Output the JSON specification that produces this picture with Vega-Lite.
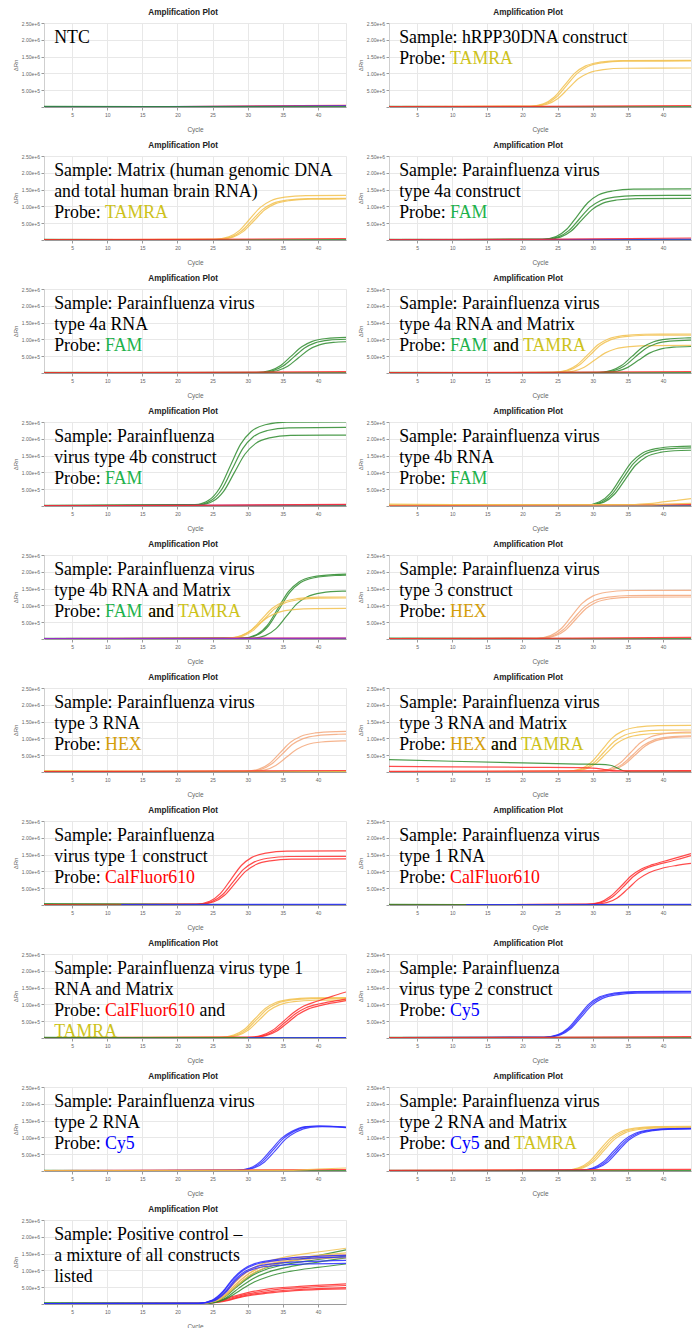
{
"$schema": "https://vega.github.io/schema/vega-lite/v6.json",
"background": "white",
"padding": {"left": 11, "top": 6, "right": 4, "bottom": 0},
"config": {
  "view": {"stroke": "#e6e6e6"},
  "font": "Liberation Sans",
  "axisX": {"grid": true, "gridColor": "#e8e8e8", "domainColor": "#9a9a9a", "tickColor": "#9a9a9a", "tickSize": 3, "labelFontSize": 5, "labelColor": "#666666", "labelPadding": 2, "titleFontSize": 6.5, "titleFontWeight": "normal", "titleColor": "#666666", "titlePadding": 9},
  "axisY": {"grid": true, "gridColor": "#e8e8e8", "domainColor": "#cfcfcf", "tickColor": "#9a9a9a", "tickSize": 3, "labelFontSize": 5, "labelColor": "#666666", "labelPadding": 1.5, "titleFontSize": 6, "titleFontWeight": "normal", "titleColor": "#666666", "titlePadding": 3}
},
"data": {"values": [
{"p":1,"s":"r","d":"CF","x":1,"y":0.005},{"p":1,"s":"r","d":"CF","x":20,"y":0.015},{"p":1,"s":"r","d":"CF","x":44,"y":0.05},
{"p":1,"s":"u","d":"Cy5","x":1,"y":0.01},{"p":1,"s":"u","d":"Cy5","x":30,"y":0.02},{"p":1,"s":"u","d":"Cy5","x":44,"y":0.035},
{"p":1,"s":"g","d":"FAM","x":1,"y":0.02},{"p":1,"s":"g","d":"FAM","x":15,"y":0.01},{"p":1,"s":"g","d":"FAM","x":44,"y":0.01},

{"p":2,"s":"g","d":"FAM","x":1,"y":0.02},{"p":2,"s":"g","d":"FAM","x":12,"y":0.012},{"p":2,"s":"g","d":"FAM","x":44,"y":0.01},
{"p":2,"s":"r","d":"CF","x":1,"y":0.01},{"p":2,"s":"r","d":"CF","x":22,"y":0.02},{"p":2,"s":"r","d":"CF","x":44,"y":0.045},
{"p":2,"s":"a","d":"TAMRA","x":1,"y":0.01},{"p":2,"s":"a","d":"TAMRA","x":21,"y":0.021},{"p":2,"s":"a","d":"TAMRA","x":23,"y":0.097},{"p":2,"s":"a","d":"TAMRA","x":24.5,"y":0.292},{"p":2,"s":"a","d":"TAMRA","x":26,"y":0.653},{"p":2,"s":"a","d":"TAMRA","x":27.5,"y":1.015},{"p":2,"s":"a","d":"TAMRA","x":29,"y":1.223},{"p":2,"s":"a","d":"TAMRA","x":31,"y":1.334},{"p":2,"s":"a","d":"TAMRA","x":34,"y":1.383},{"p":2,"s":"a","d":"TAMRA","x":44,"y":1.39},
{"p":2,"s":"b","d":"TAMRA","x":1,"y":0.01},{"p":2,"s":"b","d":"TAMRA","x":21.3,"y":0.021},{"p":2,"s":"b","d":"TAMRA","x":23.3,"y":0.096},{"p":2,"s":"b","d":"TAMRA","x":24.8,"y":0.288},{"p":2,"s":"b","d":"TAMRA","x":26.3,"y":0.644},{"p":2,"s":"b","d":"TAMRA","x":27.8,"y":1.0},{"p":2,"s":"b","d":"TAMRA","x":29.3,"y":1.206},{"p":2,"s":"b","d":"TAMRA","x":31.3,"y":1.315},{"p":2,"s":"b","d":"TAMRA","x":34.3,"y":1.363},{"p":2,"s":"b","d":"TAMRA","x":44,"y":1.37},
{"p":2,"s":"c","d":"TAMRA","x":1,"y":0.01},{"p":2,"s":"c","d":"TAMRA","x":21.5,"y":0.017},{"p":2,"s":"c","d":"TAMRA","x":23.5,"y":0.081},{"p":2,"s":"c","d":"TAMRA","x":25,"y":0.244},{"p":2,"s":"c","d":"TAMRA","x":26.5,"y":0.545},{"p":2,"s":"c","d":"TAMRA","x":28,"y":0.847},{"p":2,"s":"c","d":"TAMRA","x":29.5,"y":1.021},{"p":2,"s":"c","d":"TAMRA","x":31.5,"y":1.114},{"p":2,"s":"c","d":"TAMRA","x":34.5,"y":1.154},{"p":2,"s":"c","d":"TAMRA","x":44,"y":1.16},

{"p":3,"s":"g","d":"FAM","x":1,"y":0.02},{"p":3,"s":"g","d":"FAM","x":12,"y":0.012},{"p":3,"s":"g","d":"FAM","x":44,"y":0.01},
{"p":3,"s":"r","d":"CF","x":1,"y":0.01},{"p":3,"s":"r","d":"CF","x":22,"y":0.02},{"p":3,"s":"r","d":"CF","x":44,"y":0.045},
{"p":3,"s":"a","d":"TAMRA","x":1,"y":0.01},{"p":3,"s":"a","d":"TAMRA","x":25.3,"y":0.02},{"p":3,"s":"a","d":"TAMRA","x":27.3,"y":0.093},{"p":3,"s":"a","d":"TAMRA","x":28.8,"y":0.279},{"p":3,"s":"a","d":"TAMRA","x":30.3,"y":0.625},{"p":3,"s":"a","d":"TAMRA","x":31.8,"y":0.971},{"p":3,"s":"a","d":"TAMRA","x":33.3,"y":1.17},{"p":3,"s":"a","d":"TAMRA","x":35.3,"y":1.277},{"p":3,"s":"a","d":"TAMRA","x":38.3,"y":1.323},{"p":3,"s":"a","d":"TAMRA","x":44,"y":1.33},
{"p":3,"s":"b","d":"TAMRA","x":1,"y":0.01},{"p":3,"s":"b","d":"TAMRA","x":25.6,"y":0.019},{"p":3,"s":"b","d":"TAMRA","x":27.6,"y":0.087},{"p":3,"s":"b","d":"TAMRA","x":29.1,"y":0.26},{"p":3,"s":"b","d":"TAMRA","x":30.6,"y":0.583},{"p":3,"s":"b","d":"TAMRA","x":32.1,"y":0.905},{"p":3,"s":"b","d":"TAMRA","x":33.6,"y":1.091},{"p":3,"s":"b","d":"TAMRA","x":35.6,"y":1.19},{"p":3,"s":"b","d":"TAMRA","x":38.6,"y":1.234},{"p":3,"s":"b","d":"TAMRA","x":44,"y":1.24},
{"p":3,"s":"c","d":"TAMRA","x":1,"y":0.01},{"p":3,"s":"c","d":"TAMRA","x":25.9,"y":0.018},{"p":3,"s":"c","d":"TAMRA","x":27.9,"y":0.085},{"p":3,"s":"c","d":"TAMRA","x":29.4,"y":0.256},{"p":3,"s":"c","d":"TAMRA","x":30.9,"y":0.573},{"p":3,"s":"c","d":"TAMRA","x":32.4,"y":0.891},{"p":3,"s":"c","d":"TAMRA","x":33.9,"y":1.074},{"p":3,"s":"c","d":"TAMRA","x":35.9,"y":1.171},{"p":3,"s":"c","d":"TAMRA","x":38.9,"y":1.214},{"p":3,"s":"c","d":"TAMRA","x":44,"y":1.22},

{"p":4,"s":"g","d":"FAM","x":1,"y":0.02},{"p":4,"s":"g","d":"FAM","x":12,"y":0.012},{"p":4,"s":"g","d":"FAM","x":44,"y":0.01},
{"p":4,"s":"u","d":"Cy5","x":1,"y":0.008},{"p":4,"s":"u","d":"Cy5","x":44,"y":0.025},
{"p":4,"s":"r","d":"CF","x":1,"y":0.01},{"p":4,"s":"r","d":"CF","x":22,"y":0.02},{"p":4,"s":"r","d":"CF","x":44,"y":0.06},
{"p":4,"s":"a","d":"FAM","x":1,"y":0.01},{"p":4,"s":"a","d":"FAM","x":22.8,"y":0.023},{"p":4,"s":"a","d":"FAM","x":24.8,"y":0.106},{"p":4,"s":"a","d":"FAM","x":26.3,"y":0.319},{"p":4,"s":"a","d":"FAM","x":27.8,"y":0.714},{"p":4,"s":"a","d":"FAM","x":29.3,"y":1.11},{"p":4,"s":"a","d":"FAM","x":30.8,"y":1.338},{"p":4,"s":"a","d":"FAM","x":32.8,"y":1.459},{"p":4,"s":"a","d":"FAM","x":35.8,"y":1.512},{"p":4,"s":"a","d":"FAM","x":44,"y":1.52},
{"p":4,"s":"b","d":"FAM","x":1,"y":0.01},{"p":4,"s":"b","d":"FAM","x":23.1,"y":0.02},{"p":4,"s":"b","d":"FAM","x":25.1,"y":0.093},{"p":4,"s":"b","d":"FAM","x":26.6,"y":0.279},{"p":4,"s":"b","d":"FAM","x":28.1,"y":0.625},{"p":4,"s":"b","d":"FAM","x":29.6,"y":0.971},{"p":4,"s":"b","d":"FAM","x":31.1,"y":1.17},{"p":4,"s":"b","d":"FAM","x":33.1,"y":1.277},{"p":4,"s":"b","d":"FAM","x":36.1,"y":1.323},{"p":4,"s":"b","d":"FAM","x":44,"y":1.33},
{"p":4,"s":"c","d":"FAM","x":1,"y":0.01},{"p":4,"s":"c","d":"FAM","x":23.4,"y":0.019},{"p":4,"s":"c","d":"FAM","x":25.4,"y":0.087},{"p":4,"s":"c","d":"FAM","x":26.9,"y":0.26},{"p":4,"s":"c","d":"FAM","x":28.4,"y":0.583},{"p":4,"s":"c","d":"FAM","x":29.9,"y":0.905},{"p":4,"s":"c","d":"FAM","x":31.4,"y":1.091},{"p":4,"s":"c","d":"FAM","x":33.4,"y":1.19},{"p":4,"s":"c","d":"FAM","x":36.4,"y":1.234},{"p":4,"s":"c","d":"FAM","x":44,"y":1.24},

{"p":5,"s":"g","d":"FAM","x":1,"y":0.02},{"p":5,"s":"g","d":"FAM","x":12,"y":0.012},{"p":5,"s":"g","d":"FAM","x":44,"y":0.01},
{"p":5,"s":"r","d":"CF","x":1,"y":0.01},{"p":5,"s":"r","d":"CF","x":22,"y":0.02},{"p":5,"s":"r","d":"CF","x":44,"y":0.04},
{"p":5,"s":"a","d":"FAM","x":1,"y":0.01},{"p":5,"s":"a","d":"FAM","x":31.2,"y":0.016},{"p":5,"s":"a","d":"FAM","x":33.2,"y":0.075},{"p":5,"s":"a","d":"FAM","x":34.7,"y":0.225},{"p":5,"s":"a","d":"FAM","x":36.2,"y":0.503},{"p":5,"s":"a","d":"FAM","x":37.7,"y":0.781},{"p":5,"s":"a","d":"FAM","x":39.2,"y":0.942},{"p":5,"s":"a","d":"FAM","x":41.2,"y":1.027},{"p":5,"s":"a","d":"FAM","x":44,"y":1.06},
{"p":5,"s":"b","d":"FAM","x":1,"y":0.01},{"p":5,"s":"b","d":"FAM","x":31.6,"y":0.015},{"p":5,"s":"b","d":"FAM","x":33.6,"y":0.071},{"p":5,"s":"b","d":"FAM","x":35.1,"y":0.214},{"p":5,"s":"b","d":"FAM","x":36.6,"y":0.479},{"p":5,"s":"b","d":"FAM","x":38.1,"y":0.745},{"p":5,"s":"b","d":"FAM","x":39.6,"y":0.898},{"p":5,"s":"b","d":"FAM","x":41.6,"y":0.979},{"p":5,"s":"b","d":"FAM","x":44,"y":1.005},
{"p":5,"s":"c","d":"FAM","x":1,"y":0.01},{"p":5,"s":"c","d":"FAM","x":32.2,"y":0.014},{"p":5,"s":"c","d":"FAM","x":34.2,"y":0.067},{"p":5,"s":"c","d":"FAM","x":35.7,"y":0.2},{"p":5,"s":"c","d":"FAM","x":37.2,"y":0.447},{"p":5,"s":"c","d":"FAM","x":38.7,"y":0.694},{"p":5,"s":"c","d":"FAM","x":40.2,"y":0.836},{"p":5,"s":"c","d":"FAM","x":42.2,"y":0.912},{"p":5,"s":"c","d":"FAM","x":44,"y":0.93},

{"p":6,"s":"g","d":"FAM","x":1,"y":0.02},{"p":6,"s":"g","d":"FAM","x":12,"y":0.012},{"p":6,"s":"g","d":"FAM","x":44,"y":0.01},
{"p":6,"s":"r","d":"CF","x":1,"y":0.01},{"p":6,"s":"r","d":"CF","x":22,"y":0.02},{"p":6,"s":"r","d":"CF","x":44,"y":0.045},
{"p":6,"s":"a","d":"TAMRA","x":1,"y":0.01},{"p":6,"s":"a","d":"TAMRA","x":24.3,"y":0.017},{"p":6,"s":"a","d":"TAMRA","x":26.3,"y":0.081},{"p":6,"s":"a","d":"TAMRA","x":27.8,"y":0.244},{"p":6,"s":"a","d":"TAMRA","x":29.3,"y":0.545},{"p":6,"s":"a","d":"TAMRA","x":30.8,"y":0.847},{"p":6,"s":"a","d":"TAMRA","x":32.3,"y":1.021},{"p":6,"s":"a","d":"TAMRA","x":34.3,"y":1.114},{"p":6,"s":"a","d":"TAMRA","x":37.3,"y":1.154},{"p":6,"s":"a","d":"TAMRA","x":44,"y":1.16},
{"p":6,"s":"b","d":"TAMRA","x":1,"y":0.01},{"p":6,"s":"b","d":"TAMRA","x":24.6,"y":0.017},{"p":6,"s":"b","d":"TAMRA","x":26.6,"y":0.079},{"p":6,"s":"b","d":"TAMRA","x":28.1,"y":0.237},{"p":6,"s":"b","d":"TAMRA","x":29.6,"y":0.531},{"p":6,"s":"b","d":"TAMRA","x":31.1,"y":0.825},{"p":6,"s":"b","d":"TAMRA","x":32.6,"y":0.994},{"p":6,"s":"b","d":"TAMRA","x":34.6,"y":1.085},{"p":6,"s":"b","d":"TAMRA","x":37.6,"y":1.124},{"p":6,"s":"b","d":"TAMRA","x":44,"y":1.13},
{"p":6,"s":"c","d":"TAMRA","x":1,"y":0.01},{"p":6,"s":"c","d":"TAMRA","x":25.3,"y":0.012},{"p":6,"s":"c","d":"TAMRA","x":27.3,"y":0.057},{"p":6,"s":"c","d":"TAMRA","x":28.8,"y":0.172},{"p":6,"s":"c","d":"TAMRA","x":30.3,"y":0.385},{"p":6,"s":"c","d":"TAMRA","x":31.8,"y":0.599},{"p":6,"s":"c","d":"TAMRA","x":33.3,"y":0.722},{"p":6,"s":"c","d":"TAMRA","x":35.3,"y":0.787},{"p":6,"s":"c","d":"TAMRA","x":38.3,"y":0.816},{"p":6,"s":"c","d":"TAMRA","x":44,"y":0.82},
{"p":6,"s":"d","d":"FAM","x":1,"y":0.01},{"p":6,"s":"d","d":"FAM","x":30.6,"y":0.016},{"p":6,"s":"d","d":"FAM","x":32.6,"y":0.074},{"p":6,"s":"d","d":"FAM","x":34.1,"y":0.221},{"p":6,"s":"d","d":"FAM","x":35.6,"y":0.494},{"p":6,"s":"d","d":"FAM","x":37.1,"y":0.767},{"p":6,"s":"d","d":"FAM","x":38.6,"y":0.924},{"p":6,"s":"d","d":"FAM","x":40.6,"y":1.008},{"p":6,"s":"d","d":"FAM","x":43.6,"y":1.045},{"p":6,"s":"d","d":"FAM","x":44,"y":1.048},
{"p":6,"s":"e","d":"FAM","x":1,"y":0.01},{"p":6,"s":"e","d":"FAM","x":31,"y":0.015},{"p":6,"s":"e","d":"FAM","x":33,"y":0.069},{"p":6,"s":"e","d":"FAM","x":34.5,"y":0.208},{"p":6,"s":"e","d":"FAM","x":36,"y":0.465},{"p":6,"s":"e","d":"FAM","x":37.5,"y":0.723},{"p":6,"s":"e","d":"FAM","x":39,"y":0.871},{"p":6,"s":"e","d":"FAM","x":41,"y":0.95},{"p":6,"s":"e","d":"FAM","x":44,"y":0.98},
{"p":6,"s":"f","d":"FAM","x":1,"y":0.01},{"p":6,"s":"f","d":"FAM","x":31.5,"y":0.012},{"p":6,"s":"f","d":"FAM","x":33.5,"y":0.056},{"p":6,"s":"f","d":"FAM","x":35,"y":0.168},{"p":6,"s":"f","d":"FAM","x":36.5,"y":0.376},{"p":6,"s":"f","d":"FAM","x":38,"y":0.584},{"p":6,"s":"f","d":"FAM","x":39.5,"y":0.704},{"p":6,"s":"f","d":"FAM","x":41.5,"y":0.768},{"p":6,"s":"f","d":"FAM","x":44,"y":0.788},

{"p":7,"s":"g","d":"FAM","x":1,"y":0.02},{"p":7,"s":"g","d":"FAM","x":12,"y":0.012},{"p":7,"s":"g","d":"FAM","x":44,"y":0.01},
{"p":7,"s":"q","d":"P","x":1,"y":0.008},{"p":7,"s":"q","d":"P","x":44,"y":0.04},
{"p":7,"s":"r","d":"CF","x":1,"y":0.01},{"p":7,"s":"r","d":"CF","x":22,"y":0.02},{"p":7,"s":"r","d":"CF","x":44,"y":0.05},
{"p":7,"s":"a","d":"FAM","x":1,"y":0.01},{"p":7,"s":"a","d":"FAM","x":22.5,"y":0.038},{"p":7,"s":"a","d":"FAM","x":24.5,"y":0.176},{"p":7,"s":"a","d":"FAM","x":26,"y":0.529},{"p":7,"s":"a","d":"FAM","x":27.5,"y":1.184},{"p":7,"s":"a","d":"FAM","x":29,"y":1.84},{"p":7,"s":"a","d":"FAM","x":30.5,"y":2.218},{"p":7,"s":"a","d":"FAM","x":32.5,"y":2.419},{"p":7,"s":"a","d":"FAM","x":35.5,"y":2.495},{"p":7,"s":"a","d":"FAM","x":44,"y":2.5},
{"p":7,"s":"b","d":"FAM","x":1,"y":0.01},{"p":7,"s":"b","d":"FAM","x":22.8,"y":0.035},{"p":7,"s":"b","d":"FAM","x":24.8,"y":0.164},{"p":7,"s":"b","d":"FAM","x":26.3,"y":0.491},{"p":7,"s":"b","d":"FAM","x":27.8,"y":1.1},{"p":7,"s":"b","d":"FAM","x":29.3,"y":1.708},{"p":7,"s":"b","d":"FAM","x":30.8,"y":2.059},{"p":7,"s":"b","d":"FAM","x":32.8,"y":2.246},{"p":7,"s":"b","d":"FAM","x":35.8,"y":2.328},{"p":7,"s":"b","d":"FAM","x":44,"y":2.34},
{"p":7,"s":"c","d":"FAM","x":1,"y":0.01},{"p":7,"s":"c","d":"FAM","x":23.1,"y":0.032},{"p":7,"s":"c","d":"FAM","x":25.1,"y":0.148},{"p":7,"s":"c","d":"FAM","x":26.6,"y":0.443},{"p":7,"s":"c","d":"FAM","x":28.1,"y":0.992},{"p":7,"s":"c","d":"FAM","x":29.6,"y":1.54},{"p":7,"s":"c","d":"FAM","x":31.1,"y":1.857},{"p":7,"s":"c","d":"FAM","x":33.1,"y":2.026},{"p":7,"s":"c","d":"FAM","x":36.1,"y":2.099},{"p":7,"s":"c","d":"FAM","x":44,"y":2.11},

{"p":8,"s":"g","d":"FAM","x":1,"y":0.02},{"p":8,"s":"g","d":"FAM","x":12,"y":0.012},{"p":8,"s":"g","d":"FAM","x":44,"y":0.01},
{"p":8,"s":"q","d":"P","x":1,"y":0.008},{"p":8,"s":"q","d":"P","x":44,"y":0.03},
{"p":8,"s":"r","d":"CF","x":1,"y":0.01},{"p":8,"s":"r","d":"CF","x":44,"y":0.05},
{"p":8,"s":"t","d":"TAMRA","x":1,"y":0.06},{"p":8,"s":"t","d":"TAMRA","x":10,"y":0.045},{"p":8,"s":"t","d":"TAMRA","x":30,"y":0.04},{"p":8,"s":"t","d":"TAMRA","x":36,"y":0.045},{"p":8,"s":"t","d":"TAMRA","x":38,"y":0.07},{"p":8,"s":"t","d":"TAMRA","x":40,"y":0.12},{"p":8,"s":"t","d":"TAMRA","x":42,"y":0.17},{"p":8,"s":"t","d":"TAMRA","x":44,"y":0.22},
{"p":8,"s":"v","d":"TAMRA","x":1,"y":0.035},{"p":8,"s":"v","d":"TAMRA","x":20,"y":0.03},{"p":8,"s":"v","d":"TAMRA","x":37,"y":0.03},{"p":8,"s":"v","d":"TAMRA","x":40,"y":0.05},{"p":8,"s":"v","d":"TAMRA","x":44,"y":0.08},
{"p":8,"s":"a","d":"FAM","x":1,"y":0.01},{"p":8,"s":"a","d":"FAM","x":29,"y":0.027},{"p":8,"s":"a","d":"FAM","x":31,"y":0.125},{"p":8,"s":"a","d":"FAM","x":32.5,"y":0.374},{"p":8,"s":"a","d":"FAM","x":34,"y":0.837},{"p":8,"s":"a","d":"FAM","x":35.5,"y":1.299},{"p":8,"s":"a","d":"FAM","x":37,"y":1.566},{"p":8,"s":"a","d":"FAM","x":39,"y":1.709},{"p":8,"s":"a","d":"FAM","x":42,"y":1.771},{"p":8,"s":"a","d":"FAM","x":44,"y":1.78},
{"p":8,"s":"b","d":"FAM","x":1,"y":0.01},{"p":8,"s":"b","d":"FAM","x":29.3,"y":0.026},{"p":8,"s":"b","d":"FAM","x":31.3,"y":0.121},{"p":8,"s":"b","d":"FAM","x":32.8,"y":0.363},{"p":8,"s":"b","d":"FAM","x":34.3,"y":0.813},{"p":8,"s":"b","d":"FAM","x":35.8,"y":1.263},{"p":8,"s":"b","d":"FAM","x":37.3,"y":1.522},{"p":8,"s":"b","d":"FAM","x":39.3,"y":1.661},{"p":8,"s":"b","d":"FAM","x":42.3,"y":1.721},{"p":8,"s":"b","d":"FAM","x":44,"y":1.73},
{"p":8,"s":"c","d":"FAM","x":1,"y":0.01},{"p":8,"s":"c","d":"FAM","x":29.6,"y":0.025},{"p":8,"s":"c","d":"FAM","x":31.6,"y":0.116},{"p":8,"s":"c","d":"FAM","x":33.1,"y":0.349},{"p":8,"s":"c","d":"FAM","x":34.6,"y":0.78},{"p":8,"s":"c","d":"FAM","x":36.1,"y":1.212},{"p":8,"s":"c","d":"FAM","x":37.6,"y":1.461},{"p":8,"s":"c","d":"FAM","x":39.6,"y":1.594},{"p":8,"s":"c","d":"FAM","x":42.6,"y":1.652},{"p":8,"s":"c","d":"FAM","x":44,"y":1.66},

{"p":9,"s":"g","d":"FAM","x":1,"y":0.02},{"p":9,"s":"g","d":"FAM","x":12,"y":0.012},{"p":9,"s":"g","d":"FAM","x":44,"y":0.01},
{"p":9,"s":"r","d":"CF","x":1,"y":0.01},{"p":9,"s":"r","d":"CF","x":44,"y":0.03},
{"p":9,"s":"q","d":"P","x":1,"y":0.01},{"p":9,"s":"q","d":"P","x":44,"y":0.025},
{"p":9,"s":"a","d":"FAM","x":1,"y":0.01},{"p":9,"s":"a","d":"FAM","x":29.3,"y":0.029},{"p":9,"s":"a","d":"FAM","x":31.3,"y":0.135},{"p":9,"s":"a","d":"FAM","x":32.8,"y":0.405},{"p":9,"s":"a","d":"FAM","x":34.3,"y":0.907},{"p":9,"s":"a","d":"FAM","x":35.8,"y":1.409},{"p":9,"s":"a","d":"FAM","x":37.3,"y":1.698},{"p":9,"s":"a","d":"FAM","x":39.3,"y":1.853},{"p":9,"s":"a","d":"FAM","x":42.3,"y":1.92},{"p":9,"s":"a","d":"FAM","x":44,"y":1.93},
{"p":9,"s":"b","d":"FAM","x":1,"y":0.01},{"p":9,"s":"b","d":"FAM","x":29.5,"y":0.029},{"p":9,"s":"b","d":"FAM","x":31.5,"y":0.133},{"p":9,"s":"b","d":"FAM","x":33,"y":0.399},{"p":9,"s":"b","d":"FAM","x":34.5,"y":0.893},{"p":9,"s":"b","d":"FAM","x":36,"y":1.387},{"p":9,"s":"b","d":"FAM","x":37.5,"y":1.672},{"p":9,"s":"b","d":"FAM","x":39.5,"y":1.824},{"p":9,"s":"b","d":"FAM","x":42.5,"y":1.891},{"p":9,"s":"b","d":"FAM","x":44,"y":1.9},
{"p":9,"s":"c","d":"FAM","x":1,"y":0.01},{"p":9,"s":"c","d":"FAM","x":30.5,"y":0.021},{"p":9,"s":"c","d":"FAM","x":32.5,"y":0.1},{"p":9,"s":"c","d":"FAM","x":34,"y":0.3},{"p":9,"s":"c","d":"FAM","x":35.5,"y":0.672},{"p":9,"s":"c","d":"FAM","x":37,"y":1.044},{"p":9,"s":"c","d":"FAM","x":38.5,"y":1.258},{"p":9,"s":"c","d":"FAM","x":40.5,"y":1.373},{"p":9,"s":"c","d":"FAM","x":43.5,"y":1.423},{"p":9,"s":"c","d":"FAM","x":44,"y":1.425},
{"p":9,"s":"d","d":"TAMRA","x":1,"y":0.01},{"p":9,"s":"d","d":"TAMRA","x":27,"y":0.019},{"p":9,"s":"d","d":"TAMRA","x":29,"y":0.088},{"p":9,"s":"d","d":"TAMRA","x":30.5,"y":0.263},{"p":9,"s":"d","d":"TAMRA","x":32,"y":0.588},{"p":9,"s":"d","d":"TAMRA","x":33.5,"y":0.913},{"p":9,"s":"d","d":"TAMRA","x":35,"y":1.1},{"p":9,"s":"d","d":"TAMRA","x":37,"y":1.2},{"p":9,"s":"d","d":"TAMRA","x":40,"y":1.244},{"p":9,"s":"d","d":"TAMRA","x":44,"y":1.25},
{"p":9,"s":"e","d":"TAMRA","x":1,"y":0.01},{"p":9,"s":"e","d":"TAMRA","x":27.3,"y":0.018},{"p":9,"s":"e","d":"TAMRA","x":29.3,"y":0.085},{"p":9,"s":"e","d":"TAMRA","x":30.8,"y":0.256},{"p":9,"s":"e","d":"TAMRA","x":32.3,"y":0.573},{"p":9,"s":"e","d":"TAMRA","x":33.8,"y":0.891},{"p":9,"s":"e","d":"TAMRA","x":35.3,"y":1.074},{"p":9,"s":"e","d":"TAMRA","x":37.3,"y":1.171},{"p":9,"s":"e","d":"TAMRA","x":40.3,"y":1.214},{"p":9,"s":"e","d":"TAMRA","x":44,"y":1.22},
{"p":9,"s":"f","d":"TAMRA","x":1,"y":0.01},{"p":9,"s":"f","d":"TAMRA","x":26.5,"y":0.014},{"p":9,"s":"f","d":"TAMRA","x":28.5,"y":0.064},{"p":9,"s":"f","d":"TAMRA","x":30,"y":0.191},{"p":9,"s":"f","d":"TAMRA","x":31.5,"y":0.428},{"p":9,"s":"f","d":"TAMRA","x":33,"y":0.664},{"p":9,"s":"f","d":"TAMRA","x":34.5,"y":0.801},{"p":9,"s":"f","d":"TAMRA","x":36.5,"y":0.874},{"p":9,"s":"f","d":"TAMRA","x":39.5,"y":0.905},{"p":9,"s":"f","d":"TAMRA","x":44,"y":0.91},

{"p":10,"s":"g","d":"FAM","x":1,"y":0.03},{"p":10,"s":"g","d":"FAM","x":15,"y":0.02},{"p":10,"s":"g","d":"FAM","x":44,"y":0.01},
{"p":10,"s":"r","d":"CF","x":1,"y":0.01},{"p":10,"s":"r","d":"CF","x":22,"y":0.02},{"p":10,"s":"r","d":"CF","x":44,"y":0.05},
{"p":10,"s":"a","d":"HEX","x":1,"y":0.01},{"p":10,"s":"a","d":"HEX","x":22,"y":0.022},{"p":10,"s":"a","d":"HEX","x":24,"y":0.102},{"p":10,"s":"a","d":"HEX","x":25.5,"y":0.305},{"p":10,"s":"a","d":"HEX","x":27,"y":0.682},{"p":10,"s":"a","d":"HEX","x":28.5,"y":1.059},{"p":10,"s":"a","d":"HEX","x":30,"y":1.276},{"p":10,"s":"a","d":"HEX","x":32,"y":1.392},{"p":10,"s":"a","d":"HEX","x":35,"y":1.443},{"p":10,"s":"a","d":"HEX","x":44,"y":1.45},
{"p":10,"s":"b","d":"HEX","x":1,"y":0.01},{"p":10,"s":"b","d":"HEX","x":22.3,"y":0.02},{"p":10,"s":"b","d":"HEX","x":24.3,"y":0.091},{"p":10,"s":"b","d":"HEX","x":25.8,"y":0.273},{"p":10,"s":"b","d":"HEX","x":27.3,"y":0.611},{"p":10,"s":"b","d":"HEX","x":28.8,"y":0.949},{"p":10,"s":"b","d":"HEX","x":30.3,"y":1.144},{"p":10,"s":"b","d":"HEX","x":32.3,"y":1.248},{"p":10,"s":"b","d":"HEX","x":35.3,"y":1.294},{"p":10,"s":"b","d":"HEX","x":44,"y":1.3},
{"p":10,"s":"c","d":"HEX","x":1,"y":0.01},{"p":10,"s":"c","d":"HEX","x":22.6,"y":0.019},{"p":10,"s":"c","d":"HEX","x":24.6,"y":0.088},{"p":10,"s":"c","d":"HEX","x":26.1,"y":0.263},{"p":10,"s":"c","d":"HEX","x":27.6,"y":0.588},{"p":10,"s":"c","d":"HEX","x":29.1,"y":0.913},{"p":10,"s":"c","d":"HEX","x":30.6,"y":1.1},{"p":10,"s":"c","d":"HEX","x":32.6,"y":1.2},{"p":10,"s":"c","d":"HEX","x":35.6,"y":1.244},{"p":10,"s":"c","d":"HEX","x":44,"y":1.25},

{"p":11,"s":"g","d":"FAM","x":1,"y":0.02},{"p":11,"s":"g","d":"FAM","x":12,"y":0.012},{"p":11,"s":"g","d":"FAM","x":44,"y":0.01},
{"p":11,"s":"t","d":"TAMRA","x":1,"y":0.045},{"p":11,"s":"t","d":"TAMRA","x":15,"y":0.03},{"p":11,"s":"t","d":"TAMRA","x":44,"y":0.02},
{"p":11,"s":"r","d":"CF","x":1,"y":0.01},{"p":11,"s":"r","d":"CF","x":44,"y":0.045},
{"p":11,"s":"a","d":"HEX","x":1,"y":0.01},{"p":11,"s":"a","d":"HEX","x":29.6,"y":0.018},{"p":11,"s":"a","d":"HEX","x":31.6,"y":0.085},{"p":11,"s":"a","d":"HEX","x":33.1,"y":0.254},{"p":11,"s":"a","d":"HEX","x":34.6,"y":0.569},{"p":11,"s":"a","d":"HEX","x":36.1,"y":0.883},{"p":11,"s":"a","d":"HEX","x":37.6,"y":1.065},{"p":11,"s":"a","d":"HEX","x":39.6,"y":1.162},{"p":11,"s":"a","d":"HEX","x":42.6,"y":1.204},{"p":11,"s":"a","d":"HEX","x":44,"y":1.21},
{"p":11,"s":"b","d":"HEX","x":1,"y":0.01},{"p":11,"s":"b","d":"HEX","x":29.9,"y":0.017},{"p":11,"s":"b","d":"HEX","x":31.9,"y":0.079},{"p":11,"s":"b","d":"HEX","x":33.4,"y":0.237},{"p":11,"s":"b","d":"HEX","x":34.9,"y":0.531},{"p":11,"s":"b","d":"HEX","x":36.4,"y":0.825},{"p":11,"s":"b","d":"HEX","x":37.9,"y":0.994},{"p":11,"s":"b","d":"HEX","x":39.9,"y":1.085},{"p":11,"s":"b","d":"HEX","x":42.9,"y":1.124},{"p":11,"s":"b","d":"HEX","x":44,"y":1.13},
{"p":11,"s":"c","d":"HEX","x":1,"y":0.01},{"p":11,"s":"c","d":"HEX","x":30.5,"y":0.014},{"p":11,"s":"c","d":"HEX","x":32.5,"y":0.065},{"p":11,"s":"c","d":"HEX","x":34,"y":0.195},{"p":11,"s":"c","d":"HEX","x":35.5,"y":0.437},{"p":11,"s":"c","d":"HEX","x":37,"y":0.679},{"p":11,"s":"c","d":"HEX","x":38.5,"y":0.818},{"p":11,"s":"c","d":"HEX","x":40.5,"y":0.893},{"p":11,"s":"c","d":"HEX","x":43.5,"y":0.925},{"p":11,"s":"c","d":"HEX","x":44,"y":0.927},

{"p":12,"s":"g","d":"FAM","x":1,"y":0.37},{"p":12,"s":"g","d":"FAM","x":10,"y":0.32},{"p":12,"s":"g","d":"FAM","x":20,"y":0.27},{"p":12,"s":"g","d":"FAM","x":28,"y":0.235},{"p":12,"s":"g","d":"FAM","x":31,"y":0.225},{"p":12,"s":"g","d":"FAM","x":32.5,"y":0.2},{"p":12,"s":"g","d":"FAM","x":33.5,"y":0.12},{"p":12,"s":"g","d":"FAM","x":34.5,"y":0.03},{"p":12,"s":"g","d":"FAM","x":35.5,"y":0.005},{"p":12,"s":"g","d":"FAM","x":44,"y":0.005},
{"p":12,"s":"r","d":"CF","x":1,"y":0.17},{"p":12,"s":"r","d":"CF","x":10,"y":0.155},{"p":12,"s":"r","d":"CF","x":20,"y":0.14},{"p":12,"s":"r","d":"CF","x":28,"y":0.13},{"p":12,"s":"r","d":"CF","x":30,"y":0.115},{"p":12,"s":"r","d":"CF","x":31.5,"y":0.08},{"p":12,"s":"r","d":"CF","x":33,"y":0.035},{"p":12,"s":"r","d":"CF","x":35,"y":0.03},{"p":12,"s":"r","d":"CF","x":44,"y":0.03},
{"p":12,"s":"w","d":"CF","x":1,"y":0.02},{"p":12,"s":"w","d":"CF","x":44,"y":0.04},
{"p":12,"s":"a","d":"TAMRA","x":1,"y":0.01},{"p":12,"s":"a","d":"TAMRA","x":26.3,"y":0.021},{"p":12,"s":"a","d":"TAMRA","x":28.3,"y":0.097},{"p":12,"s":"a","d":"TAMRA","x":29.8,"y":0.292},{"p":12,"s":"a","d":"TAMRA","x":31.3,"y":0.653},{"p":12,"s":"a","d":"TAMRA","x":32.8,"y":1.015},{"p":12,"s":"a","d":"TAMRA","x":34.3,"y":1.223},{"p":12,"s":"a","d":"TAMRA","x":36.3,"y":1.334},{"p":12,"s":"a","d":"TAMRA","x":39.3,"y":1.383},{"p":12,"s":"a","d":"TAMRA","x":44,"y":1.39},
{"p":12,"s":"b","d":"TAMRA","x":1,"y":0.01},{"p":12,"s":"b","d":"TAMRA","x":26.6,"y":0.019},{"p":12,"s":"b","d":"TAMRA","x":28.6,"y":0.088},{"p":12,"s":"b","d":"TAMRA","x":30.1,"y":0.263},{"p":12,"s":"b","d":"TAMRA","x":31.6,"y":0.588},{"p":12,"s":"b","d":"TAMRA","x":33.1,"y":0.913},{"p":12,"s":"b","d":"TAMRA","x":34.6,"y":1.1},{"p":12,"s":"b","d":"TAMRA","x":36.6,"y":1.2},{"p":12,"s":"b","d":"TAMRA","x":39.6,"y":1.244},{"p":12,"s":"b","d":"TAMRA","x":44,"y":1.25},
{"p":12,"s":"c","d":"TAMRA","x":1,"y":0.01},{"p":12,"s":"c","d":"TAMRA","x":26.9,"y":0.017},{"p":12,"s":"c","d":"TAMRA","x":28.9,"y":0.081},{"p":12,"s":"c","d":"TAMRA","x":30.4,"y":0.244},{"p":12,"s":"c","d":"TAMRA","x":31.9,"y":0.545},{"p":12,"s":"c","d":"TAMRA","x":33.4,"y":0.847},{"p":12,"s":"c","d":"TAMRA","x":34.9,"y":1.021},{"p":12,"s":"c","d":"TAMRA","x":36.9,"y":1.114},{"p":12,"s":"c","d":"TAMRA","x":39.9,"y":1.154},{"p":12,"s":"c","d":"TAMRA","x":44,"y":1.16},
{"p":12,"s":"d","d":"HEX","x":1,"y":0.01},{"p":12,"s":"d","d":"HEX","x":30.3,"y":0.018},{"p":12,"s":"d","d":"HEX","x":32.3,"y":0.083},{"p":12,"s":"d","d":"HEX","x":33.8,"y":0.25},{"p":12,"s":"d","d":"HEX","x":35.3,"y":0.559},{"p":12,"s":"d","d":"HEX","x":36.8,"y":0.869},{"p":12,"s":"d","d":"HEX","x":38.3,"y":1.047},{"p":12,"s":"d","d":"HEX","x":40.3,"y":1.142},{"p":12,"s":"d","d":"HEX","x":43.3,"y":1.184},{"p":12,"s":"d","d":"HEX","x":44,"y":1.186},
{"p":12,"s":"e","d":"HEX","x":1,"y":0.01},{"p":12,"s":"e","d":"HEX","x":30.7,"y":0.016},{"p":12,"s":"e","d":"HEX","x":32.7,"y":0.076},{"p":12,"s":"e","d":"HEX","x":34.2,"y":0.227},{"p":12,"s":"e","d":"HEX","x":35.7,"y":0.508},{"p":12,"s":"e","d":"HEX","x":37.2,"y":0.788},{"p":12,"s":"e","d":"HEX","x":38.7,"y":0.95},{"p":12,"s":"e","d":"HEX","x":40.7,"y":1.037},{"p":12,"s":"e","d":"HEX","x":43.7,"y":1.075},{"p":12,"s":"e","d":"HEX","x":44,"y":1.076},
{"p":12,"s":"f","d":"HEX","x":1,"y":0.01},{"p":12,"s":"f","d":"HEX","x":31,"y":0.016},{"p":12,"s":"f","d":"HEX","x":33,"y":0.074},{"p":12,"s":"f","d":"HEX","x":34.5,"y":0.223},{"p":12,"s":"f","d":"HEX","x":36,"y":0.498},{"p":12,"s":"f","d":"HEX","x":37.5,"y":0.774},{"p":12,"s":"f","d":"HEX","x":39,"y":0.933},{"p":12,"s":"f","d":"HEX","x":41,"y":1.018},{"p":12,"s":"f","d":"HEX","x":44,"y":1.049},

{"p":13,"s":"g","d":"FAM","x":1,"y":0.04},{"p":13,"s":"g","d":"FAM","x":10,"y":0.035},{"p":13,"s":"g","d":"FAM","x":20,"y":0.02},{"p":13,"s":"g","d":"FAM","x":30,"y":0.01},{"p":13,"s":"g","d":"FAM","x":44,"y":0.005},
{"p":13,"s":"u","d":"Cy5","x":12,"y":0.01},{"p":13,"s":"u","d":"Cy5","x":44,"y":0.02},
{"p":13,"s":"a","d":"CF","x":1,"y":0.01},{"p":13,"s":"a","d":"CF","x":22.6,"y":0.024},{"p":13,"s":"a","d":"CF","x":24.6,"y":0.113},{"p":13,"s":"a","d":"CF","x":26.1,"y":0.338},{"p":13,"s":"a","d":"CF","x":27.6,"y":0.757},{"p":13,"s":"a","d":"CF","x":29.1,"y":1.175},{"p":13,"s":"a","d":"CF","x":30.6,"y":1.417},{"p":13,"s":"a","d":"CF","x":32.6,"y":1.546},{"p":13,"s":"a","d":"CF","x":35.6,"y":1.602},{"p":13,"s":"a","d":"CF","x":44,"y":1.61},
{"p":13,"s":"b","d":"CF","x":1,"y":0.01},{"p":13,"s":"b","d":"CF","x":22.9,"y":0.022},{"p":13,"s":"b","d":"CF","x":24.9,"y":0.102},{"p":13,"s":"b","d":"CF","x":26.4,"y":0.305},{"p":13,"s":"b","d":"CF","x":27.9,"y":0.682},{"p":13,"s":"b","d":"CF","x":29.4,"y":1.059},{"p":13,"s":"b","d":"CF","x":30.9,"y":1.276},{"p":13,"s":"b","d":"CF","x":32.9,"y":1.392},{"p":13,"s":"b","d":"CF","x":35.9,"y":1.443},{"p":13,"s":"b","d":"CF","x":44,"y":1.45},
{"p":13,"s":"c","d":"CF","x":1,"y":0.01},{"p":13,"s":"c","d":"CF","x":23.2,"y":0.021},{"p":13,"s":"c","d":"CF","x":25.2,"y":0.096},{"p":13,"s":"c","d":"CF","x":26.7,"y":0.288},{"p":13,"s":"c","d":"CF","x":28.2,"y":0.644},{"p":13,"s":"c","d":"CF","x":29.7,"y":1.0},{"p":13,"s":"c","d":"CF","x":31.2,"y":1.206},{"p":13,"s":"c","d":"CF","x":33.2,"y":1.315},{"p":13,"s":"c","d":"CF","x":36.2,"y":1.363},{"p":13,"s":"c","d":"CF","x":44,"y":1.37},

{"p":14,"s":"g","d":"FAM","x":1,"y":0.02},{"p":14,"s":"g","d":"FAM","x":20,"y":0.012},{"p":14,"s":"g","d":"FAM","x":44,"y":0.01},
{"p":14,"s":"u","d":"Cy5","x":12,"y":0.01},{"p":14,"s":"u","d":"Cy5","x":44,"y":0.02},
{"p":14,"s":"a","d":"CF","x":1,"y":0.01},{"p":14,"s":"a","d":"CF","x":29,"y":0.02},{"p":14,"s":"a","d":"CF","x":31,"y":0.08},{"p":14,"s":"a","d":"CF","x":32.5,"y":0.25},{"p":14,"s":"a","d":"CF","x":34,"y":0.55},{"p":14,"s":"a","d":"CF","x":35.5,"y":0.87},{"p":14,"s":"a","d":"CF","x":37,"y":1.08},{"p":14,"s":"a","d":"CF","x":38.5,"y":1.2},{"p":14,"s":"a","d":"CF","x":41,"y":1.35},{"p":14,"s":"a","d":"CF","x":44,"y":1.53},
{"p":14,"s":"b","d":"CF","x":1,"y":0.01},{"p":14,"s":"b","d":"CF","x":29.3,"y":0.02},{"p":14,"s":"b","d":"CF","x":31.3,"y":0.08},{"p":14,"s":"b","d":"CF","x":32.8,"y":0.24},{"p":14,"s":"b","d":"CF","x":34.3,"y":0.53},{"p":14,"s":"b","d":"CF","x":35.8,"y":0.85},{"p":14,"s":"b","d":"CF","x":37.3,"y":1.06},{"p":14,"s":"b","d":"CF","x":38.8,"y":1.18},{"p":14,"s":"b","d":"CF","x":41.3,"y":1.31},{"p":14,"s":"b","d":"CF","x":44,"y":1.47},
{"p":14,"s":"c","d":"CF","x":1,"y":0.01},{"p":14,"s":"c","d":"CF","x":30,"y":0.02},{"p":14,"s":"c","d":"CF","x":32,"y":0.07},{"p":14,"s":"c","d":"CF","x":33.5,"y":0.21},{"p":14,"s":"c","d":"CF","x":35,"y":0.48},{"p":14,"s":"c","d":"CF","x":36.5,"y":0.77},{"p":14,"s":"c","d":"CF","x":38,"y":0.96},{"p":14,"s":"c","d":"CF","x":40,"y":1.1},{"p":14,"s":"c","d":"CF","x":42,"y":1.18},{"p":14,"s":"c","d":"CF","x":44,"y":1.24},

{"p":15,"s":"g","d":"FAM","x":1,"y":0.02},{"p":15,"s":"g","d":"FAM","x":20,"y":0.01},{"p":15,"s":"g","d":"FAM","x":44,"y":0.01},
{"p":15,"s":"u","d":"Cy5","x":30,"y":0.005},{"p":15,"s":"u","d":"Cy5","x":44,"y":0.01},
{"p":15,"s":"a","d":"TAMRA","x":1,"y":0.01},{"p":15,"s":"a","d":"TAMRA","x":26,"y":0.018},{"p":15,"s":"a","d":"TAMRA","x":28,"y":0.084},{"p":15,"s":"a","d":"TAMRA","x":29.5,"y":0.252},{"p":15,"s":"a","d":"TAMRA","x":31,"y":0.564},{"p":15,"s":"a","d":"TAMRA","x":32.5,"y":0.876},{"p":15,"s":"a","d":"TAMRA","x":34,"y":1.056},{"p":15,"s":"a","d":"TAMRA","x":36,"y":1.152},{"p":15,"s":"a","d":"TAMRA","x":39,"y":1.194},{"p":15,"s":"a","d":"TAMRA","x":44,"y":1.2},
{"p":15,"s":"b","d":"TAMRA","x":1,"y":0.01},{"p":15,"s":"b","d":"TAMRA","x":26.3,"y":0.018},{"p":15,"s":"b","d":"TAMRA","x":28.3,"y":0.083},{"p":15,"s":"b","d":"TAMRA","x":29.8,"y":0.248},{"p":15,"s":"b","d":"TAMRA","x":31.3,"y":0.555},{"p":15,"s":"b","d":"TAMRA","x":32.8,"y":0.861},{"p":15,"s":"b","d":"TAMRA","x":34.3,"y":1.038},{"p":15,"s":"b","d":"TAMRA","x":36.3,"y":1.133},{"p":15,"s":"b","d":"TAMRA","x":39.3,"y":1.174},{"p":15,"s":"b","d":"TAMRA","x":44,"y":1.18},
{"p":15,"s":"c","d":"TAMRA","x":1,"y":0.01},{"p":15,"s":"c","d":"TAMRA","x":26.6,"y":0.017},{"p":15,"s":"c","d":"TAMRA","x":28.6,"y":0.079},{"p":15,"s":"c","d":"TAMRA","x":30.1,"y":0.237},{"p":15,"s":"c","d":"TAMRA","x":31.6,"y":0.531},{"p":15,"s":"c","d":"TAMRA","x":33.1,"y":0.825},{"p":15,"s":"c","d":"TAMRA","x":34.6,"y":0.994},{"p":15,"s":"c","d":"TAMRA","x":36.6,"y":1.085},{"p":15,"s":"c","d":"TAMRA","x":39.6,"y":1.124},{"p":15,"s":"c","d":"TAMRA","x":44,"y":1.13},
{"p":15,"s":"d","d":"CF","x":1,"y":0.01},{"p":15,"s":"d","d":"CF","x":30,"y":0.02},{"p":15,"s":"d","d":"CF","x":32,"y":0.08},{"p":15,"s":"d","d":"CF","x":33.5,"y":0.22},{"p":15,"s":"d","d":"CF","x":35,"y":0.48},{"p":15,"s":"d","d":"CF","x":36.5,"y":0.75},{"p":15,"s":"d","d":"CF","x":38,"y":0.95},{"p":15,"s":"d","d":"CF","x":40,"y":1.1},{"p":15,"s":"d","d":"CF","x":42,"y":1.24},{"p":15,"s":"d","d":"CF","x":44,"y":1.37},
{"p":15,"s":"e","d":"CF","x":1,"y":0.01},{"p":15,"s":"e","d":"CF","x":30.3,"y":0.02},{"p":15,"s":"e","d":"CF","x":32.3,"y":0.07},{"p":15,"s":"e","d":"CF","x":33.8,"y":0.21},{"p":15,"s":"e","d":"CF","x":35.3,"y":0.46},{"p":15,"s":"e","d":"CF","x":36.8,"y":0.72},{"p":15,"s":"e","d":"CF","x":38.3,"y":0.9},{"p":15,"s":"e","d":"CF","x":40.3,"y":1.02},{"p":15,"s":"e","d":"CF","x":42.3,"y":1.1},{"p":15,"s":"e","d":"CF","x":44,"y":1.16},
{"p":15,"s":"f","d":"CF","x":1,"y":0.01},{"p":15,"s":"f","d":"CF","x":30.6,"y":0.02},{"p":15,"s":"f","d":"CF","x":32.6,"y":0.07},{"p":15,"s":"f","d":"CF","x":34.1,"y":0.2},{"p":15,"s":"f","d":"CF","x":35.6,"y":0.44},{"p":15,"s":"f","d":"CF","x":37.1,"y":0.69},{"p":15,"s":"f","d":"CF","x":38.6,"y":0.86},{"p":15,"s":"f","d":"CF","x":40.6,"y":0.98},{"p":15,"s":"f","d":"CF","x":42.6,"y":1.06},{"p":15,"s":"f","d":"CF","x":44,"y":1.11},

{"p":16,"s":"g","d":"FAM","x":1,"y":0.02},{"p":16,"s":"g","d":"FAM","x":44,"y":0.01},
{"p":16,"s":"r","d":"CF","x":1,"y":0.01},{"p":16,"s":"r","d":"CF","x":22,"y":0.02},{"p":16,"s":"r","d":"CF","x":44,"y":0.04},
{"p":16,"s":"a","d":"Cy5","x":1,"y":0.01},{"p":16,"s":"a","d":"Cy5","x":23,"y":0.021},{"p":16,"s":"a","d":"Cy5","x":25,"y":0.097},{"p":16,"s":"a","d":"Cy5","x":26.5,"y":0.292},{"p":16,"s":"a","d":"Cy5","x":28,"y":0.653},{"p":16,"s":"a","d":"Cy5","x":29.5,"y":1.015},{"p":16,"s":"a","d":"Cy5","x":31,"y":1.223},{"p":16,"s":"a","d":"Cy5","x":33,"y":1.334},{"p":16,"s":"a","d":"Cy5","x":36,"y":1.383},{"p":16,"s":"a","d":"Cy5","x":44,"y":1.39},
{"p":16,"s":"b","d":"Cy5","x":1,"y":0.01},{"p":16,"s":"b","d":"Cy5","x":23.2,"y":0.021},{"p":16,"s":"b","d":"Cy5","x":25.2,"y":0.096},{"p":16,"s":"b","d":"Cy5","x":26.7,"y":0.288},{"p":16,"s":"b","d":"Cy5","x":28.2,"y":0.644},{"p":16,"s":"b","d":"Cy5","x":29.7,"y":1.0},{"p":16,"s":"b","d":"Cy5","x":31.2,"y":1.206},{"p":16,"s":"b","d":"Cy5","x":33.2,"y":1.315},{"p":16,"s":"b","d":"Cy5","x":36.2,"y":1.363},{"p":16,"s":"b","d":"Cy5","x":44,"y":1.37},
{"p":16,"s":"c","d":"Cy5","x":1,"y":0.01},{"p":16,"s":"c","d":"Cy5","x":23.4,"y":0.02},{"p":16,"s":"c","d":"Cy5","x":25.4,"y":0.094},{"p":16,"s":"c","d":"Cy5","x":26.9,"y":0.281},{"p":16,"s":"c","d":"Cy5","x":28.4,"y":0.63},{"p":16,"s":"c","d":"Cy5","x":29.9,"y":0.978},{"p":16,"s":"c","d":"Cy5","x":31.4,"y":1.179},{"p":16,"s":"c","d":"Cy5","x":33.4,"y":1.286},{"p":16,"s":"c","d":"Cy5","x":36.4,"y":1.333},{"p":16,"s":"c","d":"Cy5","x":44,"y":1.34},

{"p":17,"s":"g","d":"FAM","x":1,"y":0.02},{"p":17,"s":"g","d":"FAM","x":12,"y":0.012},{"p":17,"s":"g","d":"FAM","x":44,"y":0.01},
{"p":17,"s":"r","d":"CF","x":1,"y":0.01},{"p":17,"s":"r","d":"CF","x":44,"y":0.045},
{"p":17,"s":"t","d":"TAMRA","x":1,"y":0.015},{"p":17,"s":"t","d":"TAMRA","x":36,"y":0.02},{"p":17,"s":"t","d":"TAMRA","x":40,"y":0.06},{"p":17,"s":"t","d":"TAMRA","x":44,"y":0.09},
{"p":17,"s":"a","d":"Cy5","x":1,"y":0.01},{"p":17,"s":"a","d":"Cy5","x":28.3,"y":0.02},{"p":17,"s":"a","d":"Cy5","x":30.3,"y":0.09},{"p":17,"s":"a","d":"Cy5","x":31.8,"y":0.28},{"p":17,"s":"a","d":"Cy5","x":33.3,"y":0.62},{"p":17,"s":"a","d":"Cy5","x":34.8,"y":0.97},{"p":17,"s":"a","d":"Cy5","x":36.3,"y":1.18},{"p":17,"s":"a","d":"Cy5","x":38.3,"y":1.32},{"p":17,"s":"a","d":"Cy5","x":40,"y":1.34},{"p":17,"s":"a","d":"Cy5","x":44,"y":1.3},
{"p":17,"s":"b","d":"Cy5","x":1,"y":0.01},{"p":17,"s":"b","d":"Cy5","x":28.6,"y":0.02},{"p":17,"s":"b","d":"Cy5","x":30.6,"y":0.09},{"p":17,"s":"b","d":"Cy5","x":32.1,"y":0.28},{"p":17,"s":"b","d":"Cy5","x":33.6,"y":0.62},{"p":17,"s":"b","d":"Cy5","x":35.1,"y":0.97},{"p":17,"s":"b","d":"Cy5","x":36.6,"y":1.18},{"p":17,"s":"b","d":"Cy5","x":38.6,"y":1.32},{"p":17,"s":"b","d":"Cy5","x":40.3,"y":1.34},{"p":17,"s":"b","d":"Cy5","x":44,"y":1.31},
{"p":17,"s":"c","d":"Cy5","x":1,"y":0.01},{"p":17,"s":"c","d":"Cy5","x":28.9,"y":0.02},{"p":17,"s":"c","d":"Cy5","x":30.9,"y":0.09},{"p":17,"s":"c","d":"Cy5","x":32.4,"y":0.27},{"p":17,"s":"c","d":"Cy5","x":33.9,"y":0.6},{"p":17,"s":"c","d":"Cy5","x":35.4,"y":0.95},{"p":17,"s":"c","d":"Cy5","x":36.9,"y":1.16},{"p":17,"s":"c","d":"Cy5","x":38.9,"y":1.3},{"p":17,"s":"c","d":"Cy5","x":40.6,"y":1.32},{"p":17,"s":"c","d":"Cy5","x":44,"y":1.29},

{"p":18,"s":"g","d":"FAM","x":1,"y":0.02},{"p":18,"s":"g","d":"FAM","x":12,"y":0.012},{"p":18,"s":"g","d":"FAM","x":44,"y":0.01},
{"p":18,"s":"r","d":"CF","x":1,"y":0.02},{"p":18,"s":"r","d":"CF","x":44,"y":0.05},
{"p":18,"s":"a","d":"TAMRA","x":1,"y":0.01},{"p":18,"s":"a","d":"TAMRA","x":26,"y":0.02},{"p":18,"s":"a","d":"TAMRA","x":28,"y":0.093},{"p":18,"s":"a","d":"TAMRA","x":29.5,"y":0.279},{"p":18,"s":"a","d":"TAMRA","x":31,"y":0.625},{"p":18,"s":"a","d":"TAMRA","x":32.5,"y":0.971},{"p":18,"s":"a","d":"TAMRA","x":34,"y":1.17},{"p":18,"s":"a","d":"TAMRA","x":36,"y":1.277},{"p":18,"s":"a","d":"TAMRA","x":39,"y":1.323},{"p":18,"s":"a","d":"TAMRA","x":44,"y":1.33},
{"p":18,"s":"b","d":"TAMRA","x":1,"y":0.01},{"p":18,"s":"b","d":"TAMRA","x":26.3,"y":0.02},{"p":18,"s":"b","d":"TAMRA","x":28.3,"y":0.092},{"p":18,"s":"b","d":"TAMRA","x":29.8,"y":0.275},{"p":18,"s":"b","d":"TAMRA","x":31.3,"y":0.616},{"p":18,"s":"b","d":"TAMRA","x":32.8,"y":0.956},{"p":18,"s":"b","d":"TAMRA","x":34.3,"y":1.153},{"p":18,"s":"b","d":"TAMRA","x":36.3,"y":1.258},{"p":18,"s":"b","d":"TAMRA","x":39.3,"y":1.303},{"p":18,"s":"b","d":"TAMRA","x":44,"y":1.31},
{"p":18,"s":"c","d":"TAMRA","x":1,"y":0.01},{"p":18,"s":"c","d":"TAMRA","x":26.6,"y":0.019},{"p":18,"s":"c","d":"TAMRA","x":28.6,"y":0.09},{"p":18,"s":"c","d":"TAMRA","x":30.1,"y":0.271},{"p":18,"s":"c","d":"TAMRA","x":31.6,"y":0.606},{"p":18,"s":"c","d":"TAMRA","x":33.1,"y":0.942},{"p":18,"s":"c","d":"TAMRA","x":34.6,"y":1.135},{"p":18,"s":"c","d":"TAMRA","x":36.6,"y":1.238},{"p":18,"s":"c","d":"TAMRA","x":39.6,"y":1.284},{"p":18,"s":"c","d":"TAMRA","x":44,"y":1.29},
{"p":18,"s":"d","d":"Cy5","x":1,"y":0.01},{"p":18,"s":"d","d":"Cy5","x":28,"y":0.019},{"p":18,"s":"d","d":"Cy5","x":30,"y":0.089},{"p":18,"s":"d","d":"Cy5","x":31.5,"y":0.267},{"p":18,"s":"d","d":"Cy5","x":33,"y":0.597},{"p":18,"s":"d","d":"Cy5","x":34.5,"y":0.927},{"p":18,"s":"d","d":"Cy5","x":36,"y":1.118},{"p":18,"s":"d","d":"Cy5","x":38,"y":1.219},{"p":18,"s":"d","d":"Cy5","x":41,"y":1.264},{"p":18,"s":"d","d":"Cy5","x":44,"y":1.27},
{"p":18,"s":"e","d":"Cy5","x":1,"y":0.01},{"p":18,"s":"e","d":"Cy5","x":28.3,"y":0.019},{"p":18,"s":"e","d":"Cy5","x":30.3,"y":0.088},{"p":18,"s":"e","d":"Cy5","x":31.8,"y":0.265},{"p":18,"s":"e","d":"Cy5","x":33.3,"y":0.592},{"p":18,"s":"e","d":"Cy5","x":34.8,"y":0.92},{"p":18,"s":"e","d":"Cy5","x":36.3,"y":1.109},{"p":18,"s":"e","d":"Cy5","x":38.3,"y":1.21},{"p":18,"s":"e","d":"Cy5","x":41.3,"y":1.254},{"p":18,"s":"e","d":"Cy5","x":44,"y":1.26},
{"p":18,"s":"f","d":"Cy5","x":1,"y":0.01},{"p":18,"s":"f","d":"Cy5","x":28.6,"y":0.019},{"p":18,"s":"f","d":"Cy5","x":30.6,"y":0.088},{"p":18,"s":"f","d":"Cy5","x":32.1,"y":0.263},{"p":18,"s":"f","d":"Cy5","x":33.6,"y":0.588},{"p":18,"s":"f","d":"Cy5","x":35.1,"y":0.913},{"p":18,"s":"f","d":"Cy5","x":36.6,"y":1.1},{"p":18,"s":"f","d":"Cy5","x":38.6,"y":1.2},{"p":18,"s":"f","d":"Cy5","x":41.6,"y":1.244},{"p":18,"s":"f","d":"Cy5","x":44,"y":1.25},

{"p":19,"s":"R1","d":"CF","x":1,"y":0.01},{"p":19,"s":"R1","d":"CF","x":23,"y":0.02},{"p":19,"s":"R1","d":"CF","x":25,"y":0.06},{"p":19,"s":"R1","d":"CF","x":26.5,"y":0.13},{"p":19,"s":"R1","d":"CF","x":28,"y":0.23},{"p":19,"s":"R1","d":"CF","x":30,"y":0.34},{"p":19,"s":"R1","d":"CF","x":33,"y":0.45},{"p":19,"s":"R1","d":"CF","x":38,"y":0.53},{"p":19,"s":"R1","d":"CF","x":44,"y":0.6},
{"p":19,"s":"R2","d":"CF","x":1,"y":0.01},{"p":19,"s":"R2","d":"CF","x":23.2,"y":0.02},{"p":19,"s":"R2","d":"CF","x":25.2,"y":0.06},{"p":19,"s":"R2","d":"CF","x":26.7,"y":0.12},{"p":19,"s":"R2","d":"CF","x":28.2,"y":0.21},{"p":19,"s":"R2","d":"CF","x":30.2,"y":0.31},{"p":19,"s":"R2","d":"CF","x":33.2,"y":0.41},{"p":19,"s":"R2","d":"CF","x":38,"y":0.49},{"p":19,"s":"R2","d":"CF","x":44,"y":0.55},
{"p":19,"s":"R3","d":"CF","x":1,"y":0.01},{"p":19,"s":"R3","d":"CF","x":23.4,"y":0.02},{"p":19,"s":"R3","d":"CF","x":25.4,"y":0.05},{"p":19,"s":"R3","d":"CF","x":26.9,"y":0.11},{"p":19,"s":"R3","d":"CF","x":28.4,"y":0.19},{"p":19,"s":"R3","d":"CF","x":30.4,"y":0.28},{"p":19,"s":"R3","d":"CF","x":33.4,"y":0.37},{"p":19,"s":"R3","d":"CF","x":38,"y":0.44},{"p":19,"s":"R3","d":"CF","x":44,"y":0.49},
{"p":19,"s":"R4","d":"CF","x":1,"y":0.01},{"p":19,"s":"R4","d":"CF","x":23.6,"y":0.02},{"p":19,"s":"R4","d":"CF","x":25.6,"y":0.05},{"p":19,"s":"R4","d":"CF","x":27.1,"y":0.1},{"p":19,"s":"R4","d":"CF","x":28.6,"y":0.18},{"p":19,"s":"R4","d":"CF","x":30.6,"y":0.26},{"p":19,"s":"R4","d":"CF","x":33.6,"y":0.34},{"p":19,"s":"R4","d":"CF","x":38,"y":0.41},{"p":19,"s":"R4","d":"CF","x":44,"y":0.45},
{"p":19,"s":"G1","d":"FAM","x":1,"y":0.03},{"p":19,"s":"G1","d":"FAM","x":15,"y":0.02},{"p":19,"s":"G1","d":"FAM","x":23.5,"y":0.02},{"p":19,"s":"G1","d":"FAM","x":25.5,"y":0.09},{"p":19,"s":"G1","d":"FAM","x":27,"y":0.27},{"p":19,"s":"G1","d":"FAM","x":28.5,"y":0.55},{"p":19,"s":"G1","d":"FAM","x":30.5,"y":0.87},{"p":19,"s":"G1","d":"FAM","x":32.5,"y":1.07},{"p":19,"s":"G1","d":"FAM","x":35.5,"y":1.25},{"p":19,"s":"G1","d":"FAM","x":39.5,"y":1.42},{"p":19,"s":"G1","d":"FAM","x":44,"y":1.61},
{"p":19,"s":"G2","d":"FAM","x":1,"y":0.03},{"p":19,"s":"G2","d":"FAM","x":23.5,"y":0.02},{"p":19,"s":"G2","d":"FAM","x":25.5,"y":0.08},{"p":19,"s":"G2","d":"FAM","x":27,"y":0.25},{"p":19,"s":"G2","d":"FAM","x":28.5,"y":0.52},{"p":19,"s":"G2","d":"FAM","x":30.5,"y":0.83},{"p":19,"s":"G2","d":"FAM","x":32.5,"y":1.02},{"p":19,"s":"G2","d":"FAM","x":35.5,"y":1.18},{"p":19,"s":"G2","d":"FAM","x":39.5,"y":1.31},{"p":19,"s":"G2","d":"FAM","x":44,"y":1.43},
{"p":19,"s":"G3","d":"FAM","x":1,"y":0.02},{"p":19,"s":"G3","d":"FAM","x":24,"y":0.02},{"p":19,"s":"G3","d":"FAM","x":26,"y":0.08},{"p":19,"s":"G3","d":"FAM","x":27.5,"y":0.22},{"p":19,"s":"G3","d":"FAM","x":29,"y":0.42},{"p":19,"s":"G3","d":"FAM","x":31,"y":0.66},{"p":19,"s":"G3","d":"FAM","x":33,"y":0.82},{"p":19,"s":"G3","d":"FAM","x":36,"y":0.97},{"p":19,"s":"G3","d":"FAM","x":40,"y":1.09},{"p":19,"s":"G3","d":"FAM","x":44,"y":1.19},
{"p":19,"s":"G4","d":"FAM","x":1,"y":0.02},{"p":19,"s":"G4","d":"FAM","x":23.8,"y":0.02},{"p":19,"s":"G4","d":"FAM","x":25.8,"y":0.08},{"p":19,"s":"G4","d":"FAM","x":27.3,"y":0.24},{"p":19,"s":"G4","d":"FAM","x":28.8,"y":0.48},{"p":19,"s":"G4","d":"FAM","x":30.8,"y":0.76},{"p":19,"s":"G4","d":"FAM","x":32.8,"y":0.94},{"p":19,"s":"G4","d":"FAM","x":35.8,"y":1.1},{"p":19,"s":"G4","d":"FAM","x":39.8,"y":1.24},{"p":19,"s":"G4","d":"FAM","x":44,"y":1.37},
{"p":19,"s":"H1","d":"HEX","x":1,"y":0.01},{"p":19,"s":"H1","d":"HEX","x":23.2,"y":0.02},{"p":19,"s":"H1","d":"HEX","x":25.2,"y":0.1},{"p":19,"s":"H1","d":"HEX","x":26.7,"y":0.31},{"p":19,"s":"H1","d":"HEX","x":28.2,"y":0.64},{"p":19,"s":"H1","d":"HEX","x":30.2,"y":0.99},{"p":19,"s":"H1","d":"HEX","x":32.2,"y":1.19},{"p":19,"s":"H1","d":"HEX","x":35.2,"y":1.34},{"p":19,"s":"H1","d":"HEX","x":39,"y":1.42},{"p":19,"s":"H1","d":"HEX","x":44,"y":1.47},
{"p":19,"s":"H2","d":"HEX","x":1,"y":0.01},{"p":19,"s":"H2","d":"HEX","x":23.4,"y":0.02},{"p":19,"s":"H2","d":"HEX","x":25.4,"y":0.09},{"p":19,"s":"H2","d":"HEX","x":26.9,"y":0.29},{"p":19,"s":"H2","d":"HEX","x":28.4,"y":0.6},{"p":19,"s":"H2","d":"HEX","x":30.4,"y":0.94},{"p":19,"s":"H2","d":"HEX","x":32.4,"y":1.13},{"p":19,"s":"H2","d":"HEX","x":35.4,"y":1.27},{"p":19,"s":"H2","d":"HEX","x":39,"y":1.34},{"p":19,"s":"H2","d":"HEX","x":44,"y":1.38},
{"p":19,"s":"T1","d":"TAMRA","x":1,"y":0.01},{"p":19,"s":"T1","d":"TAMRA","x":23,"y":0.02},{"p":19,"s":"T1","d":"TAMRA","x":25,"y":0.1},{"p":19,"s":"T1","d":"TAMRA","x":26.5,"y":0.3},{"p":19,"s":"T1","d":"TAMRA","x":28,"y":0.62},{"p":19,"s":"T1","d":"TAMRA","x":30,"y":0.98},{"p":19,"s":"T1","d":"TAMRA","x":32,"y":1.2},{"p":19,"s":"T1","d":"TAMRA","x":35,"y":1.38},{"p":19,"s":"T1","d":"TAMRA","x":39,"y":1.52},{"p":19,"s":"T1","d":"TAMRA","x":44,"y":1.66},
{"p":19,"s":"T2","d":"TAMRA","x":1,"y":0.01},{"p":19,"s":"T2","d":"TAMRA","x":23.3,"y":0.02},{"p":19,"s":"T2","d":"TAMRA","x":25.3,"y":0.09},{"p":19,"s":"T2","d":"TAMRA","x":26.8,"y":0.28},{"p":19,"s":"T2","d":"TAMRA","x":28.3,"y":0.58},{"p":19,"s":"T2","d":"TAMRA","x":30.3,"y":0.92},{"p":19,"s":"T2","d":"TAMRA","x":32.3,"y":1.13},{"p":19,"s":"T2","d":"TAMRA","x":35.3,"y":1.3},{"p":19,"s":"T2","d":"TAMRA","x":39,"y":1.42},{"p":19,"s":"T2","d":"TAMRA","x":44,"y":1.52},
{"p":19,"s":"T3","d":"TAMRA","x":1,"y":0.01},{"p":19,"s":"T3","d":"TAMRA","x":23.5,"y":0.02},{"p":19,"s":"T3","d":"TAMRA","x":25.5,"y":0.09},{"p":19,"s":"T3","d":"TAMRA","x":27,"y":0.27},{"p":19,"s":"T3","d":"TAMRA","x":28.5,"y":0.55},{"p":19,"s":"T3","d":"TAMRA","x":30.5,"y":0.88},{"p":19,"s":"T3","d":"TAMRA","x":32.5,"y":1.08},{"p":19,"s":"T3","d":"TAMRA","x":35.5,"y":1.25},{"p":19,"s":"T3","d":"TAMRA","x":39,"y":1.36},{"p":19,"s":"T3","d":"TAMRA","x":44,"y":1.45},
{"p":19,"s":"B1","d":"Cy5","x":1,"y":0.01},{"p":19,"s":"B1","d":"Cy5","x":23,"y":0.02},{"p":19,"s":"B1","d":"Cy5","x":25,"y":0.12},{"p":19,"s":"B1","d":"Cy5","x":26.5,"y":0.38},{"p":19,"s":"B1","d":"Cy5","x":28,"y":0.78},{"p":19,"s":"B1","d":"Cy5","x":29.5,"y":1.05},{"p":19,"s":"B1","d":"Cy5","x":31,"y":1.2},{"p":19,"s":"B1","d":"Cy5","x":34,"y":1.32},{"p":19,"s":"B1","d":"Cy5","x":38,"y":1.4},{"p":19,"s":"B1","d":"Cy5","x":44,"y":1.45},
{"p":19,"s":"B2","d":"Cy5","x":1,"y":0.01},{"p":19,"s":"B2","d":"Cy5","x":23,"y":0.02},{"p":19,"s":"B2","d":"Cy5","x":25,"y":0.11},{"p":19,"s":"B2","d":"Cy5","x":26.5,"y":0.36},{"p":19,"s":"B2","d":"Cy5","x":28,"y":0.75},{"p":19,"s":"B2","d":"Cy5","x":29.5,"y":1.02},{"p":19,"s":"B2","d":"Cy5","x":31,"y":1.17},{"p":19,"s":"B2","d":"Cy5","x":34,"y":1.29},{"p":19,"s":"B2","d":"Cy5","x":38,"y":1.35},{"p":19,"s":"B2","d":"Cy5","x":44,"y":1.4},
{"p":19,"s":"B3","d":"Cy5","x":1,"y":0.01},{"p":19,"s":"B3","d":"Cy5","x":23.2,"y":0.02},{"p":19,"s":"B3","d":"Cy5","x":25.2,"y":0.11},{"p":19,"s":"B3","d":"Cy5","x":26.7,"y":0.35},{"p":19,"s":"B3","d":"Cy5","x":28.2,"y":0.73},{"p":19,"s":"B3","d":"Cy5","x":29.7,"y":0.98},{"p":19,"s":"B3","d":"Cy5","x":31.2,"y":1.11},{"p":19,"s":"B3","d":"Cy5","x":34.2,"y":1.21},{"p":19,"s":"B3","d":"Cy5","x":38,"y":1.26},{"p":19,"s":"B3","d":"Cy5","x":44,"y":1.3},
{"p":19,"s":"B4","d":"Cy5","x":1,"y":0.01},{"p":19,"s":"B4","d":"Cy5","x":23.3,"y":0.02},{"p":19,"s":"B4","d":"Cy5","x":25.3,"y":0.1},{"p":19,"s":"B4","d":"Cy5","x":26.8,"y":0.33},{"p":19,"s":"B4","d":"Cy5","x":28.3,"y":0.7},{"p":19,"s":"B4","d":"Cy5","x":29.8,"y":0.95},{"p":19,"s":"B4","d":"Cy5","x":31.3,"y":1.07},{"p":19,"s":"B4","d":"Cy5","x":34.3,"y":1.15},{"p":19,"s":"B4","d":"Cy5","x":38,"y":1.19},{"p":19,"s":"B4","d":"Cy5","x":44,"y":1.21},

{"p":1,"seg":"h","t":"Amplification Plot"},{"p":2,"seg":"h","t":"Amplification Plot"},{"p":3,"seg":"h","t":"Amplification Plot"},{"p":4,"seg":"h","t":"Amplification Plot"},{"p":5,"seg":"h","t":"Amplification Plot"},{"p":6,"seg":"h","t":"Amplification Plot"},{"p":7,"seg":"h","t":"Amplification Plot"},{"p":8,"seg":"h","t":"Amplification Plot"},{"p":9,"seg":"h","t":"Amplification Plot"},{"p":10,"seg":"h","t":"Amplification Plot"},{"p":11,"seg":"h","t":"Amplification Plot"},{"p":12,"seg":"h","t":"Amplification Plot"},{"p":13,"seg":"h","t":"Amplification Plot"},{"p":14,"seg":"h","t":"Amplification Plot"},{"p":15,"seg":"h","t":"Amplification Plot"},{"p":16,"seg":"h","t":"Amplification Plot"},{"p":17,"seg":"h","t":"Amplification Plot"},{"p":18,"seg":"h","t":"Amplification Plot"},{"p":19,"seg":"h","t":"Amplification Plot"},

{"p":1,"seg":"m","ln":0,"t":"NTC","d":"k","z":1},
{"p":2,"seg":"m","ln":0,"t":"Sample: hRPP30DNA construct","d":"k","z":1},
{"p":2,"seg":"m","ln":1,"t":"Probe:","d":"k","z":1},{"p":2,"seg":"w1","ln":1,"t":"TAMRA","d":"wT","z":1},
{"p":3,"seg":"m","ln":0,"t":"Sample: Matrix (human genomic DNA","d":"k","z":1},
{"p":3,"seg":"m","ln":1,"t":"and total human brain RNA)","d":"k","z":1},
{"p":3,"seg":"m","ln":2,"t":"Probe:","d":"k","z":1},{"p":3,"seg":"w1","ln":2,"t":"TAMRA","d":"wT","z":1},
{"p":4,"seg":"m","ln":0,"t":"Sample: Parainfluenza virus","d":"k","z":1},
{"p":4,"seg":"m","ln":1,"t":"type 4a construct","d":"k","z":1},
{"p":4,"seg":"m","ln":2,"t":"Probe:","d":"k","z":1},{"p":4,"seg":"w1","ln":2,"t":"FAM","d":"wF","z":1},
{"p":5,"seg":"m","ln":0,"t":"Sample: Parainfluenza virus","d":"k","z":1},
{"p":5,"seg":"m","ln":1,"t":"type 4a RNA","d":"k","z":1},
{"p":5,"seg":"m","ln":2,"t":"Probe:","d":"k","z":1},{"p":5,"seg":"w1","ln":2,"t":"FAM","d":"wF","z":1},
{"p":6,"seg":"m","ln":0,"t":"Sample: Parainfluenza virus","d":"k","z":1},
{"p":6,"seg":"m","ln":1,"t":"type 4a RNA and Matrix","d":"k","z":1},
{"p":6,"seg":"m","ln":2,"t":"Probe:","d":"k","z":1},{"p":6,"seg":"w1","ln":2,"t":"FAM","d":"wF","z":1},{"p":6,"seg":"aF","ln":2,"t":"and TAMRA","d":"wT","z":1},{"p":6,"seg":"aF","ln":2,"t":"and","d":"k","z":2},
{"p":7,"seg":"m","ln":0,"t":"Sample: Parainfluenza","d":"k","z":1},
{"p":7,"seg":"m","ln":1,"t":"virus type 4b construct","d":"k","z":1},
{"p":7,"seg":"m","ln":2,"t":"Probe:","d":"k","z":1},{"p":7,"seg":"w1","ln":2,"t":"FAM","d":"wF","z":1},
{"p":8,"seg":"m","ln":0,"t":"Sample: Parainfluenza virus","d":"k","z":1},
{"p":8,"seg":"m","ln":1,"t":"type 4b RNA","d":"k","z":1},
{"p":8,"seg":"m","ln":2,"t":"Probe:","d":"k","z":1},{"p":8,"seg":"w1","ln":2,"t":"FAM","d":"wF","z":1},
{"p":9,"seg":"m","ln":0,"t":"Sample: Parainfluenza virus","d":"k","z":1},
{"p":9,"seg":"m","ln":1,"t":"type 4b RNA and Matrix","d":"k","z":1},
{"p":9,"seg":"m","ln":2,"t":"Probe:","d":"k","z":1},{"p":9,"seg":"w1","ln":2,"t":"FAM","d":"wF","z":1},{"p":9,"seg":"aF","ln":2,"t":"and TAMRA","d":"wT","z":1},{"p":9,"seg":"aF","ln":2,"t":"and","d":"k","z":2},
{"p":10,"seg":"m","ln":0,"t":"Sample: Parainfluenza virus","d":"k","z":1},
{"p":10,"seg":"m","ln":1,"t":"type 3 construct","d":"k","z":1},
{"p":10,"seg":"m","ln":2,"t":"Probe:","d":"k","z":1},{"p":10,"seg":"w1","ln":2,"t":"HEX","d":"wH","z":1},
{"p":11,"seg":"m","ln":0,"t":"Sample: Parainfluenza virus","d":"k","z":1},
{"p":11,"seg":"m","ln":1,"t":"type 3 RNA","d":"k","z":1},
{"p":11,"seg":"m","ln":2,"t":"Probe:","d":"k","z":1},{"p":11,"seg":"w1","ln":2,"t":"HEX","d":"wH","z":1},
{"p":12,"seg":"m","ln":0,"t":"Sample: Parainfluenza virus","d":"k","z":1},
{"p":12,"seg":"m","ln":1,"t":"type 3 RNA and Matrix","d":"k","z":1},
{"p":12,"seg":"m","ln":2,"t":"Probe:","d":"k","z":1},{"p":12,"seg":"w1","ln":2,"t":"HEX","d":"wH","z":1},{"p":12,"seg":"aH","ln":2,"t":"and TAMRA","d":"wT","z":1},{"p":12,"seg":"aH","ln":2,"t":"and","d":"k","z":2},
{"p":13,"seg":"m","ln":0,"t":"Sample: Parainfluenza","d":"k","z":1},
{"p":13,"seg":"m","ln":1,"t":"virus type 1 construct","d":"k","z":1},
{"p":13,"seg":"m","ln":2,"t":"Probe:","d":"k","z":1},{"p":13,"seg":"w1","ln":2,"t":"CalFluor610","d":"wC","z":1},
{"p":14,"seg":"m","ln":0,"t":"Sample: Parainfluenza virus","d":"k","z":1},
{"p":14,"seg":"m","ln":1,"t":"type 1 RNA","d":"k","z":1},
{"p":14,"seg":"m","ln":2,"t":"Probe:","d":"k","z":1},{"p":14,"seg":"w1","ln":2,"t":"CalFluor610","d":"wC","z":1},
{"p":15,"seg":"m","ln":0,"t":"Sample: Parainfluenza virus type 1","d":"k","z":1},
{"p":15,"seg":"m","ln":1,"t":"RNA and Matrix","d":"k","z":1},
{"p":15,"seg":"m","ln":2,"t":"Probe:","d":"k","z":1},{"p":15,"seg":"w1","ln":2,"t":"CalFluor610","d":"wC","z":1},{"p":15,"seg":"aC","ln":2,"t":"and","d":"k","z":1},
{"p":15,"seg":"m","ln":3,"t":"TAMRA","d":"wT","z":1},
{"p":16,"seg":"m","ln":0,"t":"Sample: Parainfluenza","d":"k","z":1},
{"p":16,"seg":"m","ln":1,"t":"virus type 2 construct","d":"k","z":1},
{"p":16,"seg":"m","ln":2,"t":"Probe:","d":"k","z":1},{"p":16,"seg":"w1","ln":2,"t":"Cy5","d":"wY","z":1},
{"p":17,"seg":"m","ln":0,"t":"Sample: Parainfluenza virus","d":"k","z":1},
{"p":17,"seg":"m","ln":1,"t":"type 2 RNA","d":"k","z":1},
{"p":17,"seg":"m","ln":2,"t":"Probe:","d":"k","z":1},{"p":17,"seg":"w1","ln":2,"t":"Cy5","d":"wY","z":1},
{"p":18,"seg":"m","ln":0,"t":"Sample: Parainfluenza virus","d":"k","z":1},
{"p":18,"seg":"m","ln":1,"t":"type 2 RNA and Matrix","d":"k","z":1},
{"p":18,"seg":"m","ln":2,"t":"Probe:","d":"k","z":1},{"p":18,"seg":"w1","ln":2,"t":"Cy5","d":"wY","z":1},{"p":18,"seg":"aY","ln":2,"t":"and TAMRA","d":"wT","z":1},{"p":18,"seg":"aY","ln":2,"t":"and","d":"k","z":2},
{"p":19,"seg":"m","ln":0,"t":"Sample: Positive control –","d":"k","z":1},
{"p":19,"seg":"m","ln":1,"t":"a mixture of all constructs","d":"k","z":1},
{"p":19,"seg":"m","ln":2,"t":"listed","d":"k","z":1}
]},
"facet": {"field": "p", "type": "ordinal", "title": null, "header": {"labelExpr": "''", "labelFontSize": 1, "labelPadding": 0}},
"columns": 2,
"spacing": {"row": 6, "column": 9},
"resolve": {"axis": {"x": "independent", "y": "independent"}},
"spec": {
  "width": 302,
  "height": 84,
  "layer": [
    {
      "transform": [{"filter": "datum.t == null && indexof(['r','g','u','q','t','v','w'], datum.s) < 0"}],
      "mark": {"type": "line", "interpolate": "monotone", "strokeWidth": 1.2, "opacity": 0.85, "clip": true},
      "encoding": {
        "x": {"field": "x", "type": "quantitative", "scale": {"domain": [1, 44], "nice": false, "zero": false}, "axis": {"values": [5,10,15,20,25,30,35,40], "title": "Cycle"}},
        "y": {"field": "y", "type": "quantitative", "scale": {"domain": [0, 2.5], "nice": false},
          "axis": {"values": [0,0.5,1,1.5,2,2.5], "labelExpr": "datum.value == 0 ? '' : format(datum.value * 1000000, '.2e')", "title": "ΔRn"}},
        "color": {"field": "d", "type": "nominal", "legend": null,
          "scale": {"domain": ["FAM","TAMRA","HEX","CF","Cy5","P","k","wF","wT","wH","wC","wY"], "range": ["#2e8b2e","#f2c14e","#f3a77a","#ff2b2b","#2b2bff","#8b2be2","#000000","#1db14b","#cdc21b","#d49e0a","#ff0000","#0000ff"]}},
        "detail": {"field": "s", "type": "nominal"}
      }
    },
    {
      "transform": [{"filter": "datum.t == null && indexof(['r','g','u','q','t','v','w'], datum.s) >= 0"}],
      "mark": {"type": "line", "interpolate": "monotone", "strokeWidth": 1.2, "opacity": 0.85, "clip": true},
      "encoding": {
        "x": {"field": "x", "type": "quantitative", "axis": {"values": [5,10,15,20,25,30,35,40], "title": "Cycle"}},
        "y": {"field": "y", "type": "quantitative", "scale": {"domain": [0, 2.5], "nice": false}, "axis": null},
        "color": {"field": "d", "type": "nominal", "legend": null},
        "detail": {"field": "s", "type": "nominal"}
      }
    },
    {
      "transform": [{"filter": "datum.seg == 'h'"}],
      "mark": {"type": "text", "align": "center", "baseline": "middle", "font": "Liberation Sans", "fontSize": 8.2, "fontWeight": "bold", "color": "#222222"},
      "encoding": {
        "x": {"datum": 20.8, "type": "quantitative", "axis": {"values": [5,10,15,20,25,30,35,40], "title": "Cycle"}},
        "y": {"datum": -1.2, "type": "quantitative", "scale": {"domain": [-0.738, 3.262], "reverse": true, "nice": false, "zero": false}, "axis": null},
        "text": {"field": "t"}
      }
    },
    {
      "transform": [{"filter": "datum.seg == 'm'"}],
      "mark": {"type": "text", "align": "left", "baseline": "middle", "font": "Liberation Serif", "fontSize": 17.8},
      "encoding": {
        "x": {"datum": 2.45, "type": "quantitative", "axis": {"values": [5,10,15,20,25,30,35,40], "title": "Cycle"}},
        "y": {"field": "ln", "type": "quantitative", "scale": {"domain": [-0.738, 3.262], "reverse": true, "nice": false, "zero": false}, "axis": null},
        "text": {"field": "t"},
        "color": {"field": "d", "type": "nominal", "legend": null}
      }
    },
    {
      "transform": [{"filter": "datum.seg == 'w1'"}],
      "mark": {"type": "text", "align": "left", "baseline": "middle", "font": "Liberation Serif", "fontSize": 17.8},
      "encoding": {
        "x": {"datum": 9.7, "type": "quantitative", "axis": {"values": [5,10,15,20,25,30,35,40], "title": "Cycle"}},
        "y": {"field": "ln", "type": "quantitative", "scale": {"domain": [-0.738, 3.262], "reverse": true, "nice": false, "zero": false}, "axis": null},
        "text": {"field": "t"},
        "color": {"field": "d", "type": "nominal", "legend": null}
      }
    },
    {
      "transform": [{"filter": "datum.seg == 'aF'"}],
      "mark": {"type": "text", "align": "left", "baseline": "middle", "font": "Liberation Serif", "fontSize": 17.8},
      "encoding": {
        "x": {"datum": 15.83, "type": "quantitative", "axis": {"values": [5,10,15,20,25,30,35,40], "title": "Cycle"}},
        "y": {"field": "ln", "type": "quantitative", "scale": {"domain": [-0.738, 3.262], "reverse": true, "nice": false, "zero": false}, "axis": null},
        "text": {"field": "t"},
        "color": {"field": "d", "type": "nominal", "legend": null},
        "order": {"field": "z", "type": "quantitative"}
      }
    },
    {
      "transform": [{"filter": "datum.seg == 'aH'"}],
      "mark": {"type": "text", "align": "left", "baseline": "middle", "font": "Liberation Serif", "fontSize": 17.8},
      "encoding": {
        "x": {"datum": 15.54, "type": "quantitative", "axis": {"values": [5,10,15,20,25,30,35,40], "title": "Cycle"}},
        "y": {"field": "ln", "type": "quantitative", "scale": {"domain": [-0.738, 3.262], "reverse": true, "nice": false, "zero": false}, "axis": null},
        "text": {"field": "t"},
        "color": {"field": "d", "type": "nominal", "legend": null},
        "order": {"field": "z", "type": "quantitative"}
      }
    },
    {
      "transform": [{"filter": "datum.seg == 'aY'"}],
      "mark": {"type": "text", "align": "left", "baseline": "middle", "font": "Liberation Serif", "fontSize": 17.8},
      "encoding": {
        "x": {"datum": 14.56, "type": "quantitative", "axis": {"values": [5,10,15,20,25,30,35,40], "title": "Cycle"}},
        "y": {"field": "ln", "type": "quantitative", "scale": {"domain": [-0.738, 3.262], "reverse": true, "nice": false, "zero": false}, "axis": null},
        "text": {"field": "t"},
        "color": {"field": "d", "type": "nominal", "legend": null},
        "order": {"field": "z", "type": "quantitative"}
      }
    },
    {
      "transform": [{"filter": "datum.seg == 'aC'"}],
      "mark": {"type": "text", "align": "left", "baseline": "middle", "font": "Liberation Serif", "fontSize": 17.8},
      "encoding": {
        "x": {"datum": 23.15, "type": "quantitative", "axis": {"values": [5,10,15,20,25,30,35,40], "title": "Cycle"}},
        "y": {"field": "ln", "type": "quantitative", "scale": {"domain": [-0.738, 3.262], "reverse": true, "nice": false, "zero": false}, "axis": null},
        "text": {"field": "t"},
        "color": {"field": "d", "type": "nominal", "legend": null}
      }
    }
  ],
  "resolve": {"scale": {"y": "independent"}}
}
}
